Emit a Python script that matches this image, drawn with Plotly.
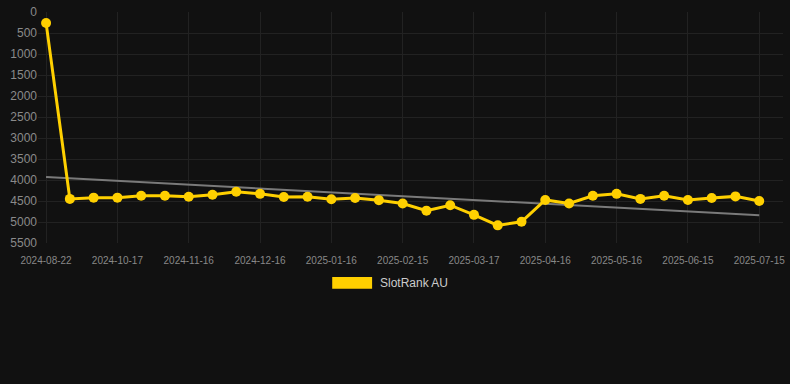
import plotly.graph_objects as go

dates = [
    "2024-08-22", "2024-09-27", "2024-10-07", "2024-10-17", "2024-10-27", "2024-11-06",
    "2024-11-16", "2024-11-26", "2024-12-06", "2024-12-16", "2024-12-26", "2025-01-06",
    "2025-01-16", "2025-01-26", "2025-02-05", "2025-02-15", "2025-02-25", "2025-03-07",
    "2025-03-17", "2025-03-27", "2025-04-06", "2025-04-16", "2025-04-26", "2025-05-06",
    "2025-05-16", "2025-05-26", "2025-06-05", "2025-06-15", "2025-06-25", "2025-07-05",
    "2025-07-15",
]
rank_au = [
    260, 4450, 4420, 4420, 4375, 4375, 4400, 4350, 4280, 4330, 4405,
    4400, 4460, 4430, 4480, 4560, 4730, 4600, 4830, 5080, 4995,
    4475, 4560, 4375, 4330, 4450, 4375, 4475, 4430, 4390, 4500,
]
trend_values = [3930, 4840]
tick_labels = dates[::3]
y_ticks = list(range(0, 5501, 500))

BG = "#111111"
GRID = "#222222"
YELLOW = "#FFD000"

L, R, T, B = 38, 5, 6, 141
W, H = 790, 384
pw = W - L - R
ph = H - T - B

fig = go.Figure()
fig.add_trace(go.Scatter(
    x=[dates[0], dates[-1]], y=trend_values, mode="lines",
    line=dict(color="#7a7a7a", width=2), showlegend=False, hoverinfo="skip",
))
fig.add_trace(go.Scatter(
    x=dates, y=rank_au, mode="lines+markers", name="SlotRank AU",
    line=dict(color=YELLOW, width=3), marker=dict(color=YELLOW, size=10),
    showlegend=False,
))

def px_x(p):
    return (p - L) / pw

def px_y(p):
    return (H - B - p) / ph

fig.add_shape(type="rect", xref="paper", yref="paper",
              x0=px_x(333), x1=px_x(373), y0=px_y(290), y1=px_y(278),
              fillcolor=YELLOW, line=dict(width=0))
fig.add_annotation(xref="paper", yref="paper", x=px_x(379), y=px_y(284),
                   text="SlotRank AU", showarrow=False, xanchor="left", yanchor="middle",
                   font=dict(size=12, color="#cccccc"))

fig.update_layout(
    width=W, height=H,
    margin=dict(l=L, r=R, t=T, b=B),
    paper_bgcolor=BG, plot_bgcolor=BG,
    font=dict(family="Liberation Sans, Arial, sans-serif", color="#8a8a8a"),
    xaxis=dict(
        type="category", categoryorder="array", categoryarray=dates,
        range=[-0.34, 31.0],
        tickmode="array", tickvals=tick_labels, ticktext=tick_labels,
        showgrid=True, gridcolor=GRID, gridwidth=1,
        zeroline=False, showline=False,
        tickfont=dict(size=10, color="#888888"),
        ticks="", ticklen=0, ticklabelstandoff=10,
        ticklabeloverflow="allow",
    ),
    yaxis=dict(
        range=[5500, 0], tickmode="array", tickvals=y_ticks,
        showgrid=True, gridcolor=GRID, gridwidth=1,
        zeroline=False, showline=False,
        tickfont=dict(size=12, color="#8a8a8a"),
        ticks="", ticklen=0, ticklabeloverflow="allow",
    ),
)

fig.write_html(
    "out.html",
    config={"displayModeBar": False},
    post_script="document.body.style.margin='0';document.body.style.background='#111111';",
)
